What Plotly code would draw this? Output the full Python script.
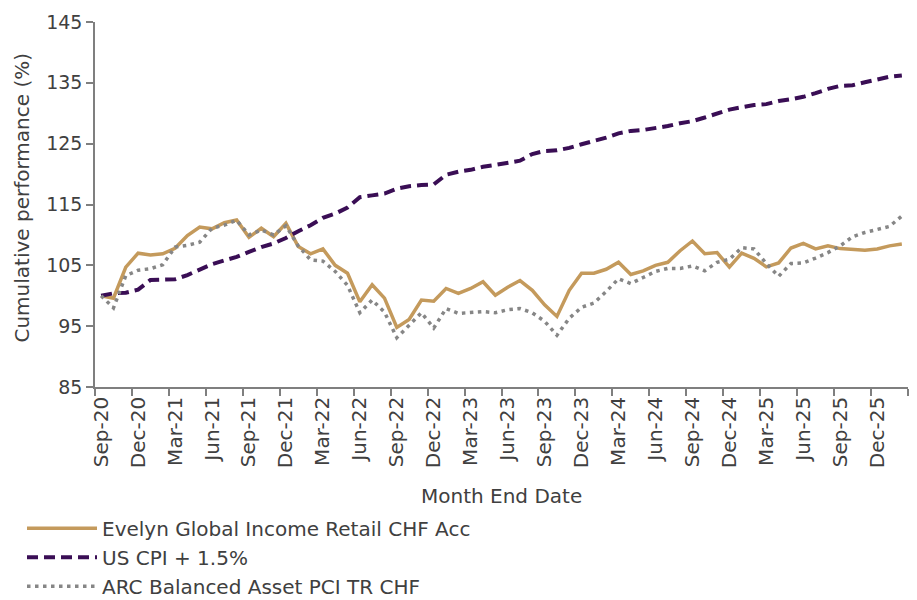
import pandas as pd
import plotly.graph_objects as go

# Month-end dates, Sep-20 through Feb-26
months = pd.date_range("2020-09-01", periods=66, freq="MS").strftime("%b-%y").tolist()

evelyn = [100.0, 99.6, 104.7, 107.0, 106.7, 106.9, 107.8, 109.9, 111.3, 111.0,
          112.0, 112.45, 109.6, 111.1, 109.7, 111.9, 108.1, 106.9, 107.7, 105.0,
          103.7, 99.0, 101.8, 99.6, 94.8, 96.1, 99.3, 99.1, 101.2, 100.4,
          101.2, 102.3, 100.1, 101.4, 102.5, 100.9, 98.5, 96.6, 100.9, 103.7,
          103.7, 104.35, 105.5, 103.5, 104.1, 105.0, 105.5, 107.4, 109.0, 106.9,
          107.1, 104.7, 107.0, 106.15, 104.75, 105.4, 107.85, 108.6, 107.7, 108.2,
          107.75, 107.65, 107.5, 107.7, 108.2, 108.5]

us_cpi = [100.0, 100.4, 100.5, 101.0, 102.6, 102.7, 102.7, 103.4, 104.3, 105.2,
          105.8, 106.4, 107.2, 108.0, 108.6, 109.5, 110.6, 111.6, 112.8, 113.5,
          114.5, 116.2, 116.5, 116.8, 117.6, 118.0, 118.2, 118.3, 119.9, 120.4,
          120.7, 121.2, 121.5, 121.9, 122.2, 123.3, 123.8, 123.9, 124.3, 124.9,
          125.4, 126.0, 126.7, 127.1, 127.25, 127.5, 127.9, 128.35, 128.7, 129.3,
          130.0, 130.6, 131.0, 131.35, 131.5, 132.0, 132.3, 132.7, 133.3, 134.0,
          134.5, 134.6, 135.1, 135.6, 136.0, 136.2]

arc = [100.0, 98.0, 103.3, 104.2, 104.45, 105.1, 108.0, 108.3, 108.8, 111.1,
       111.6, 112.4, 110.0, 110.8, 110.0, 111.5, 108.2, 105.9, 105.7, 104.0,
       101.7, 97.2, 99.3, 97.3, 93.1, 95.2, 97.2, 94.7, 97.9, 97.1,
       97.2, 97.4, 97.2, 97.7, 97.9, 97.2, 95.8, 93.5, 96.3, 98.1,
       98.8, 100.7, 102.8, 102.0, 103.0, 104.0, 104.5, 104.5, 104.9, 104.1,
       105.5, 106.0, 107.9, 107.7, 105.3, 103.2, 105.3, 105.4, 106.2, 107.1,
       108.2, 109.7, 110.4, 110.85, 111.4, 113.1]

series_names = ["Evelyn Global Income Retail CHF Acc", "US CPI + 1.5%", "ARC Balanced Asset PCI TR CHF"]
y_ticks = [85, 95, 105, 115, 125, 135, 145]
x_title = "Month End Date"
y_title = "Cumulative performance (%)"

FONT = "DejaVu Sans"
TEXT = "#404040"
AXIS = "#7f7f7f"

x = list(range(len(months)))
label_pos = x[::3]
boundaries = [i - 0.5 for i in range(0, len(months) + 1, 3)]

fig = go.Figure()
fig.add_trace(go.Scatter(x=x, y=evelyn, name=series_names[0], mode="lines",
                         legendgroup="a",
                         line=dict(color="#C49A5C", width=3.5)))
fig.add_trace(go.Scatter(x=x, y=us_cpi, name=series_names[1], mode="lines",
                         legendgroup="b",
                         line=dict(color="#3A0E55", width=4, dash="11px,6px")))
fig.add_trace(go.Scatter(x=x, y=arc, name=series_names[2], mode="lines",
                         legendgroup="c",
                         line=dict(color="#868686", width=3.5, dash="3.5px,4.5px")))

# Axis titles placed as annotations in paper coordinates
fig.add_annotation(text=x_title, xref="paper", yref="paper", x=0.5, y=-0.2986,
                   xanchor="center", yanchor="middle", showarrow=False,
                   font=dict(family=FONT, size=20, color=TEXT))
fig.add_annotation(text=y_title, xref="paper", yref="paper", x=-0.0898, y=0.519,
                   xanchor="center", yanchor="middle", textangle=-90, showarrow=False,
                   font=dict(family=FONT, size=20, color=TEXT))

fig.update_layout(
    width=917, height=600,
    paper_bgcolor="white", plot_bgcolor="white",
    margin=dict(l=95, r=9, t=22, b=213, autoexpand=False),
    font=dict(family=FONT, size=20, color=TEXT),
    showlegend=True,
    legend=dict(
        orientation="v",
        xref="container", yref="container",
        x=0.024, y=0.152, xanchor="left", yanchor="top",
        itemwidth=70, tracegroupgap=0,
        font=dict(family=FONT, size=20, color=TEXT),
        bgcolor="rgba(0,0,0,0)",
    ),
    xaxis=dict(
        range=[-0.5, len(months) - 0.5],
        tickmode="array", tickvals=label_pos,
        ticktext=[months[i] for i in label_pos],
        tickangle=-90, ticks="", showgrid=False, zeroline=False,
        showline=True, linecolor=AXIS, linewidth=1.5,
        tickfont=dict(family=FONT, size=20, color=TEXT),
        minor=dict(tickmode="array", tickvals=boundaries, ticks="outside",
                   ticklen=7, tickwidth=1.5, tickcolor=AXIS, showgrid=False),
    ),
    yaxis=dict(
        range=[85, 145], tickmode="array", tickvals=y_ticks,
        ticks="outside", ticklen=7, tickwidth=1.5, tickcolor=AXIS,
        showgrid=False, zeroline=False,
        showline=True, linecolor=AXIS, linewidth=1.5,
        tickfont=dict(family=FONT, size=19, color=TEXT),
    ),
)

fig.write_html("out.html")
